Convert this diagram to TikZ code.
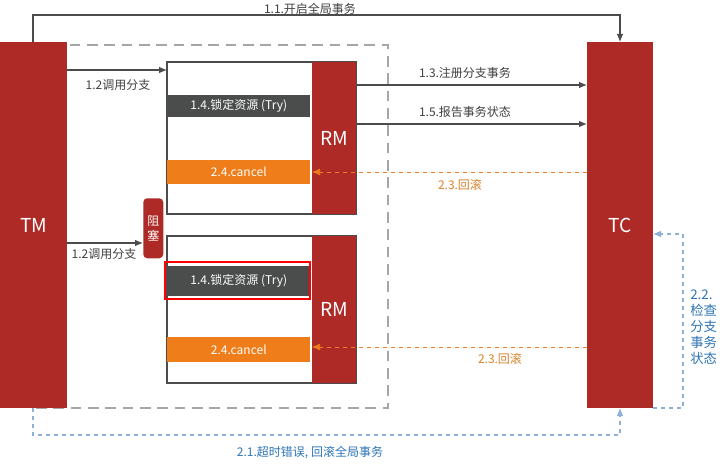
\documentclass[tikz,border=0pt]{standalone}
\usepackage{fontspec}
\setmainfont{Noto Sans CJK SC}
\usetikzlibrary{arrows.meta}
\definecolor{rd}{HTML}{AD2A27}
\definecolor{dk}{HTML}{4A4D4C}
\definecolor{og}{HTML}{EE7D1A}
\definecolor{ogt}{HTML}{D9822B}
\definecolor{bl}{HTML}{8FB0D6}
\definecolor{blt}{HTML}{2E74B5}
\tikzset{
 bar/.style={fill=rd,draw=none,text=white,font=\Large},
 lab/.style={fill=dk,text=white,font=\small,inner sep=0pt},
 can/.style={fill=og,text=white,font=\small,inner sep=0pt},
 arr/.style={-{Latex[length=6pt,width=5pt]},draw=black!70,thick},
 oarr/.style={-{Latex[length=6pt,width=5pt]},draw=og,dashed},
 barr/.style={-{Latex[length=6pt,width=5pt]},draw=bl,dashed,thick},
 txt/.style={font=\small,text=black!75},
}
\begin{document}
\begin{tikzpicture}[x=0.75pt,y=-0.75pt]
\useasboundingbox (0,0) rectangle (726,467);
\draw[gray!70,line width=2pt,dash pattern=on 8pt off 5pt] (35,45) rectangle (388,408);
\node[bar,minimum width=67*0.75pt,minimum height=366*0.75pt,anchor=north west] (tm) at (0,42) {TM};
\node[bar,minimum width=66*0.75pt,minimum height=366*0.75pt,anchor=north west] (tc) at (587,42) {TC};
\draw[black!70,thick] (167,62) rectangle (356,214);
\draw[black!70,thick] (167,236) rectangle (356,383);
\node[bar,minimum width=44*0.75pt,minimum height=152*0.75pt,anchor=north west] (rm1) at (312,62) {RM};
\node[bar,minimum width=44*0.75pt,minimum height=147*0.75pt,anchor=north west] (rm2) at (312,236) {RM};
\node[lab,minimum width=143*0.75pt,minimum height=22*0.75pt,anchor=north west] (l1) at (167,95) {1.4.锁定资源 (Try)};
\node[can,minimum width=143*0.75pt,minimum height=24*0.75pt,anchor=north west] (c1) at (167,160) {2.4.cancel};
\node[lab,minimum width=143*0.75pt,minimum height=30*0.75pt,anchor=north west] (l2) at (167,266) {1.4.锁定资源 (Try)};
\draw[red,thick] (165,262) rectangle (310,299);
\node[can,minimum width=143*0.75pt,minimum height=25*0.75pt,anchor=north west] (c2) at (167,337) {2.4.cancel};
\node[fill=rd,rounded corners=3pt,text=white,font=\small,minimum width=20*0.75pt,minimum height=60*0.75pt,inner sep=1pt,align=center,anchor=north west] (zs) at (143,198) {阻\\塞};
\coordinate (a1) at (33,42);
\coordinate (b1) at (620,42);
\draw[arr] (a1) -- (33,15) -- (620,15) -- (b1);
\node[txt] (t11) at (310,9) {1.1.开启全局事务};
\coordinate (s12) at (67,70); \coordinate (e12) at (167,70);
\draw[arr] (s12) -- (e12);
\node[txt] (t12) at (118,85) {1.2调用分支};
\coordinate (s12b) at (67,243);
\draw[arr] (s12b) -- (s12b-|zs.west);
\node[txt,fill=white,inner sep=1pt] (t12b) at (104,254) {1.2调用分支};
\coordinate (s13) at (356,85); \coordinate (e13) at (587,85);
\draw[arr] (s13) -- (e13);
\node[txt] (t13) at (465,73) {1.3.注册分支事务};
\coordinate (s15) at (356,124); \coordinate (e15) at (587,124);
\draw[arr] (s15) -- (e15);
\node[txt] (t15) at (465,112) {1.5.报告事务状态};
\coordinate (s23) at (587,172); \coordinate (e23) at (312,172);
\draw[oarr] (s23) -- (e23);
\node[txt,text=ogt] (t23) at (460,185) {2.3.回滚};
\coordinate (s23b) at (587,347); \coordinate (e23b) at (312,347);
\draw[oarr] (s23b) -- (e23b);
\node[txt,text=ogt] (t23b) at (500,359) {2.3.回滚};
\coordinate (s21) at (33,408); \coordinate (e21) at (620,408);
\draw[barr] (s21) -- (33,435) -- (620,435) -- (e21);
\node[txt,text=blt] (t21) at (310,453) {2.1.超时错误, 回滚全局事务};
\coordinate (s22) at (653,408); \coordinate (e22) at (653,234);
\draw[barr] (s22) -- (683,408) -- (683,234) -- (e22);
\node[font=\normalsize,text=blt,align=left,anchor=north west,inner sep=0pt] (t22) at (690,290) {2.2.\\检查\\分支\\事务\\状态};
\end{tikzpicture}
\end{document}
